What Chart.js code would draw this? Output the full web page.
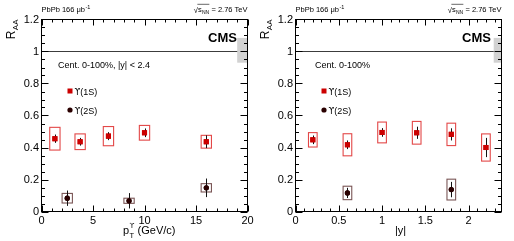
<!DOCTYPE html>
<html>
<head>
<meta charset="utf-8">
<script src="https://cdn.jsdelivr.net/npm/chart.js@4.4.1/dist/chart.umd.min.js"></script>
<style>
body { margin: 0; background: #fff; width: 514px; height: 241px; overflow: hidden; position: relative; }
canvas { position: absolute; top: 0; }
</style>
</head>
<body>
<canvas id="chartPt" width="257" height="241" style="left:0"></canvas>
<canvas id="chartRap" width="257" height="241" style="left:257px"></canvas>
<script>
// --- data ---
// R_AA vs pT
const pt1S = [1.3, 3.75, 6.5, 10, 16];
const raa1S_pt = [0.455, 0.436, 0.471, 0.492, 0.436];
const stat1S_pt = [0.026, 0.024, 0.025, 0.027, 0.04];
const sys1S_pt = [0.071, 0.049, 0.06, 0.046, 0.04];
const pt2S = [2.5, 8.5, 16];
const raa2S_pt = [0.083, 0.067, 0.148];
const stat2S_pt = [0.048, 0.048, 0.058];
const sys2S_pt = [0.03, 0.016, 0.026];

// R_AA vs |y|
const rap1S = [0.2, 0.6, 1.0, 1.4, 1.8, 2.2];
const raa1S_rap = [0.448, 0.417, 0.494, 0.492, 0.482, 0.40];
const stat1S_rap = [0.027, 0.027, 0.027, 0.038, 0.038, 0.06];
const sys1S_rap = [0.045, 0.069, 0.065, 0.071, 0.07, 0.085];
const rap2S = [0.6, 1.8];
const raa2S_rap = [0.116, 0.137];
const stat2S_rap = [0.032, 0.048];
const sys2S_rap = [0.042, 0.065];

// global uncertainty (lo, hi) around 1
const globalUnc = [0.93, 1.085];

// tick labels
const raaTicks = [0, 0.2, 0.4, 0.6, 0.8, 1, 1.2];
const raaTickLabels = ['0', '0.2', '0.4', '0.6', '0.8', '1', '1.2'];
const ptTicks = [0, 5, 10, 15, 20];
const ptTickLabels = ['0', '5', '10', '15', '20'];
const rapTicks = [0, 0.5, 1, 1.5, 2];
const rapTickLabels = ['0', '0.5', '1', '1.5', '2'];

const FONT = "'Liberation Sans', Arial, Helvetica, sans-serif";
const SYM = "'DejaVu Sans', sans-serif";

function toPoints(xs, ys) {
    return xs.map((x, i) => ({ x: x, y: ys[i] }));
}

// legend entry: upsilon symbol + state
function drawUpsilon(ctx, text, x, yBase, size) {
    ctx.font = `${size * 0.92}px ${SYM}`;
    ctx.fillText('ϒ', x, yBase);
    const w = ctx.measureText('ϒ').width;
    ctx.font = `${size}px ${FONT}`;
    ctx.fillText(text, x + w, yBase);
}

// systematics boxes, error bars, frame, inward ticks and texts in ROOT style
const rootStyle = {
    id: 'rootStyle',
    beforeDatasetsDraw(chart, args, o) {
        const { ctx, chartArea: a, scales: { x, y } } = chart;
        ctx.save();
        // line at R_AA = 1
        const y1 = y.getPixelForValue(1);
        ctx.strokeStyle = '#3c3c3c';
        ctx.lineWidth = 1;
        ctx.beginPath();
        ctx.moveTo(a.left, y1);
        ctx.lineTo(a.right, y1);
        ctx.stroke();
        // global uncertainty box
        const gx0 = x.getPixelForValue(o.globalX[0]), gx1 = x.getPixelForValue(o.globalX[1]);
        const gy0 = y.getPixelForValue(globalUnc[1]), gy1 = y.getPixelForValue(globalUnc[0]);
        ctx.fillStyle = '#d2d2d2';
        ctx.fillRect(gx0, gy0, gx1 - gx0, gy1 - gy0);
        // sys boxes
        chart.data.datasets.forEach(ds => {
            ctx.strokeStyle = ds.boxColor;
            ctx.lineWidth = 1.1;
            ds.data.forEach((p, j) => {
                const l = x.getPixelForValue(p.x - ds.boxHalf), r = x.getPixelForValue(p.x + ds.boxHalf);
                const t = y.getPixelForValue(p.y + ds.sys[j]), b = y.getPixelForValue(p.y - ds.sys[j]);
                ctx.strokeRect(l, t, r - l, b - t);
            });
        });
        ctx.restore();
    },
    afterDatasetsDraw(chart, args, o) {
        const { ctx, chartArea: a, scales: { x, y } } = chart;
        ctx.save();
        // stat error bars
        ctx.strokeStyle = '#111';
        ctx.lineWidth = 1;
        chart.data.datasets.forEach(ds => {
            ds.data.forEach((p, j) => {
                const px = Math.round(x.getPixelForValue(p.x)) + 0.5;
                ctx.beginPath();
                ctx.moveTo(px, y.getPixelForValue(p.y + ds.stat[j]));
                ctx.lineTo(px, y.getPixelForValue(p.y - ds.stat[j]));
                ctx.stroke();
            });
        });
        // markers again over the bars
        chart.data.datasets.forEach((ds, i) => {
            const meta = chart.getDatasetMeta(i);
            meta.data.forEach(el => el.draw(ctx, a));
        });
        // frame
        ctx.strokeStyle = '#000';
        ctx.lineWidth = 1;
        ctx.strokeRect(a.left, a.top, a.right - a.left, a.bottom - a.top);
        // inward ticks on all four sides
        ctx.beginPath();
        const nx = Math.round((x.max - x.min) / o.xMinor);
        for (let k = 0; k <= nx; k++) {
            const v = x.min + k * o.xMinor;
            if (v > x.max + 1e-9) break;
            const major = Math.abs(v / o.xMajor - Math.round(v / o.xMajor)) < 1e-6;
            const len = major ? 6 : 3;
            const px = Math.round(x.getPixelForValue(v)) + 0.5;
            ctx.moveTo(px, a.bottom); ctx.lineTo(px, a.bottom - len);
            ctx.moveTo(px, a.top); ctx.lineTo(px, a.top + len);
        }
        const ny = Math.round((y.max - y.min) / 0.05);
        for (let k = 0; k <= ny; k++) {
            const v = y.min + k * 0.05;
            const major = k % 4 === 0;
            const len = major ? 7 : 3.5;
            const py = Math.round(y.getPixelForValue(v)) + 0.5;
            ctx.moveTo(a.left, py); ctx.lineTo(a.left + len, py);
            ctx.moveTo(a.right, py); ctx.lineTo(a.right - len, py);
        }
        ctx.stroke();

        ctx.fillStyle = '#000';
        ctx.textBaseline = 'alphabetic';
        // top left: luminosity
        ctx.textAlign = 'left';
        ctx.font = `7.5px ${FONT}`;
        ctx.fillText('PbPb 166 μb', a.left, 12);
        let w = ctx.measureText('PbPb 166 μb').width;
        ctx.font = `5.5px ${FONT}`;
        ctx.fillText('-1', a.left + w + 0.5, 8.5);
        // top right: sqrt(s_NN)
        ctx.font = `7.5px ${FONT}`;
        const wRad = ctx.measureText('√').width;
        const wS = ctx.measureText('s').width;
        const tail = ' = 2.76 TeV';
        const wTail = ctx.measureText(tail).width;
        ctx.font = `5px ${FONT}`;
        const wNN = ctx.measureText('NN').width;
        let sx = a.right - (wRad + wS + wNN + 0.5 + wTail);
        ctx.font = `7.5px ${FONT}`;
        ctx.fillText('√', sx, 12.5);
        ctx.fillText('s', sx + wRad, 12);
        ctx.font = `5px ${FONT}`;
        ctx.fillText('NN', sx + wRad + wS + 0.3, 14);
        ctx.font = `7.5px ${FONT}`;
        ctx.fillText(tail, sx + wRad + wS + wNN + 0.5, 12);
        ctx.beginPath();
        ctx.lineWidth = 0.6;
        ctx.moveTo(sx + wRad - 0.5, 4.3);
        ctx.lineTo(sx + wRad + wS + wNN + 0.5, 4.3);
        ctx.stroke();
        // CMS
        ctx.textAlign = 'right';
        ctx.font = `bold 13px ${FONT}`;
        ctx.fillText('CMS', a.right - 10.5, 41.5);
        // selection text
        ctx.textAlign = 'left';
        ctx.font = `9px ${FONT}`;
        ctx.fillText(o.selection, a.left + o.selX, 67.5);
        // legend
        const lx = a.left + 28.5;
        ctx.fillStyle = '#cc0000';
        ctx.fillRect(lx - 2.5, 88.5, 5, 5);
        ctx.fillStyle = '#2a0000';
        ctx.beginPath();
        ctx.arc(lx, 110, 2.6, 0, Math.PI * 2);
        ctx.fill();
        ctx.fillStyle = '#000';
        drawUpsilon(ctx, '(1S)', lx + 4.5, 94.5, 9);
        drawUpsilon(ctx, '(2S)', lx + 4.5, 113.5, 9);
        // x title
        if (o.xTitle === 'pt') {
            let tx = a.left + 81.5;
            ctx.font = `11px ${FONT}`;
            ctx.fillText('p', tx, 234);
            tx += ctx.measureText('p').width;
            ctx.font = `7.5px ${FONT}`;
            ctx.fillText('T', tx + 0.3, 237.5);
            const wT = ctx.measureText('T').width;
            ctx.font = `7px ${SYM}`;
            ctx.fillText('ϒ', tx + 0.3, 228);
            tx += Math.max(wT, ctx.measureText('ϒ').width) + 0.5;
            ctx.font = `11px ${FONT}`;
            ctx.fillText(' (GeV/c)', tx, 234);
        } else {
            ctx.textAlign = 'center';
            ctx.font = `11px ${FONT}`;
            ctx.fillText('|y|', (a.left + a.right) / 2 + 2, 234);
        }
        // y title R_AA, rotated, ending at the top of the axis
        ctx.translate(a.left - 26.5, a.top);
        ctx.rotate(-Math.PI / 2);
        ctx.textAlign = 'left';
        ctx.font = `8px ${FONT}`;
        const wAA = ctx.measureText('AA').width;
        ctx.font = `12px ${FONT}`;
        const wR = ctx.measureText('R').width;
        ctx.fillText('R', -(wR + wAA + 0.5), 0);
        ctx.font = `8px ${FONT}`;
        ctx.fillText('AA', -wAA, 3);
        ctx.restore();
    }
};

function makeChart(id, xMax, xTicks, xTickLabels, yWidth, padRight, sets, styleOpts) {
    const ctx = document.getElementById(id).getContext('2d');
    return new Chart(ctx, {
        type: 'scatter',
        data: {
            datasets: [{
                data: toPoints(sets.x1, sets.y1),
                stat: sets.stat1, sys: sets.sys1, boxHalf: sets.boxHalf,
                boxColor: '#e34848',
                pointStyle: 'rect',
                pointRadius: 3.6,
                backgroundColor: '#cc0000',
                borderWidth: 0
            }, {
                data: toPoints(sets.x2, sets.y2),
                stat: sets.stat2, sys: sets.sys2, boxHalf: sets.boxHalf,
                boxColor: '#7a5656',
                pointStyle: 'circle',
                pointRadius: 2.6,
                backgroundColor: '#2a0000',
                borderWidth: 0
            }]
        },
        options: {
            responsive: false,
            animation: false,
            events: [],
            layout: { padding: { left: 0, right: padRight, top: 19.5, bottom: 0 } },
            scales: {
                x: {
                    type: 'linear',
                    min: 0,
                    max: xMax,
                    afterFit: s => { s.height = 29.5; },
                    afterBuildTicks: s => { s.ticks = xTicks.map(v => ({ value: v })); },
                    grid: { display: false, drawTicks: false, tickLength: 0 },
                    border: { display: false },
                    ticks: {
                        padding: 3,
                        color: '#000',
                        maxRotation: 0,
                        autoSkip: false,
                        font: { family: FONT, size: 11 },
                        callback: (v, i) => xTickLabels[i]
                    }
                },
                y: {
                    min: 0,
                    max: 1.2,
                    afterFit: s => { s.width = yWidth; },
                    afterBuildTicks: s => { s.ticks = raaTicks.map(v => ({ value: v })); },
                    grid: { display: false, drawTicks: false, tickLength: 0 },
                    border: { display: false },
                    ticks: {
                        padding: 2.5,
                        color: '#000',
                        autoSkip: false,
                        font: { family: FONT, size: 11 },
                        callback: (v, i) => raaTickLabels[i]
                    }
                }
            },
            plugins: {
                legend: { display: false },
                tooltip: { enabled: false },
                rootStyle: styleOpts
            }
        },
        plugins: [rootStyle]
    });
}

makeChart('chartPt', 20, ptTicks, ptTickLabels, 41.5, 9.5, {
    x1: pt1S, y1: raa1S_pt, stat1: stat1S_pt, sys1: sys1S_pt,
    x2: pt2S, y2: raa2S_pt, stat2: stat2S_pt, sys2: sys2S_pt,
    boxHalf: 0.5
}, { globalX: [19, 20], xMinor: 1, xMajor: 5, selection: 'Cent. 0-100%, |y| < 2.4', selX: 16.5, xTitle: 'pt' });

makeChart('chartRap', 2.38, rapTicks, rapTickLabels, 38.5, 12.5, {
    x1: rap1S, y1: raa1S_rap, stat1: stat1S_rap, sys1: sys1S_rap,
    x2: rap2S, y2: raa2S_rap, stat2: stat2S_rap, sys2: sys2S_rap,
    boxHalf: 0.05
}, { globalX: [2.29, 2.38], xMinor: 0.1, xMajor: 0.5, selection: 'Cent. 0-100%', selX: 19.5, xTitle: 'rap' });
</script>
</body>
</html>
